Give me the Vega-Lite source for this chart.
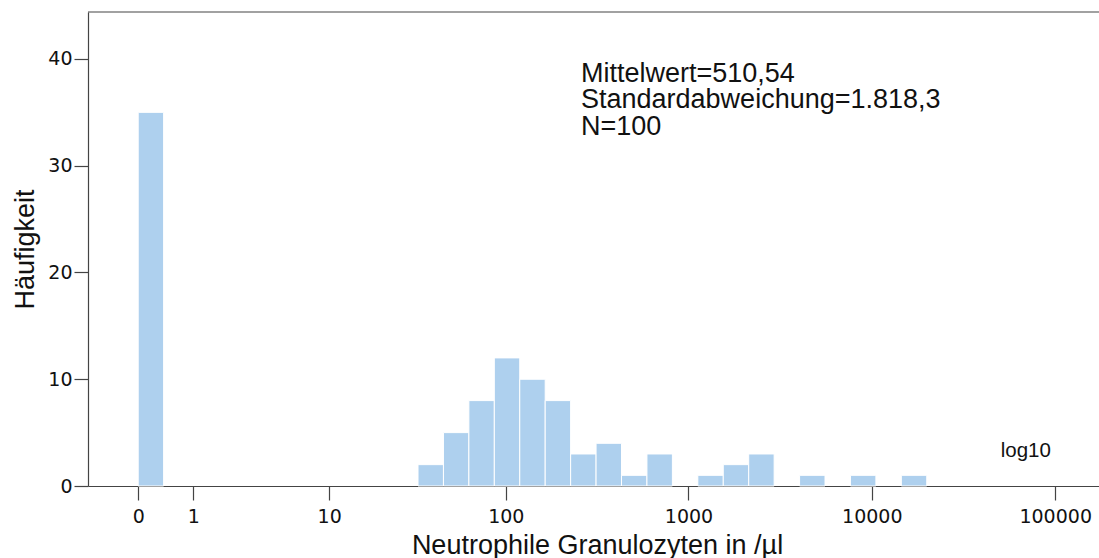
{
  "$schema": "https://vega.github.io/schema/vega-lite/v6.json",
  "width": 1011,
  "height": 474,
  "autosize": {"type": "none"},
  "padding": {"left": 88, "top": 12, "right": 0, "bottom": 72},
  "background": "white",
  "config": {
    "view": {"stroke": null},
    "axis": {
      "grid": false,
      "domainColor": "#444444",
      "domainWidth": 1.2,
      "tickColor": "#444444",
      "tickWidth": 1.2,
      "tickSize": 14,
      "labelFont": "DejaVu Sans",
      "labelFontSize": 19,
      "labelColor": "#111111",
      "titleFont": "Liberation Sans",
      "titleFontSize": 27,
      "titleFontWeight": "normal",
      "titleColor": "#111111"
    }
  },
  "layer": [
    {
      "data": {
        "values": [
          {"bin_start": 0.0, "bin_end": 0.1387, "count": 35},
          {"bin_start": 1.5257, "bin_end": 1.6644, "count": 2},
          {"bin_start": 1.6644, "bin_end": 1.8031, "count": 5},
          {"bin_start": 1.8031, "bin_end": 1.9418, "count": 8},
          {"bin_start": 1.9418, "bin_end": 2.0805, "count": 12},
          {"bin_start": 2.0805, "bin_end": 2.2192, "count": 10},
          {"bin_start": 2.2192, "bin_end": 2.3579, "count": 8},
          {"bin_start": 2.3579, "bin_end": 2.4966, "count": 3},
          {"bin_start": 2.4966, "bin_end": 2.6353, "count": 4},
          {"bin_start": 2.6353, "bin_end": 2.774, "count": 1},
          {"bin_start": 2.774, "bin_end": 2.9127, "count": 3},
          {"bin_start": 3.0514, "bin_end": 3.1901, "count": 1},
          {"bin_start": 3.1901, "bin_end": 3.3288, "count": 2},
          {"bin_start": 3.3288, "bin_end": 3.4675, "count": 3},
          {"bin_start": 3.6062, "bin_end": 3.7449, "count": 1},
          {"bin_start": 3.8836, "bin_end": 4.0223, "count": 1},
          {"bin_start": 4.161, "bin_end": 4.2997, "count": 1}
        ]
      },
      "mark": {"type": "rect", "color": "#AED0EE", "stroke": "white", "strokeWidth": 1},
      "encoding": {
        "x": {
          "field": "bin_start",
          "type": "quantitative",
          "scale": {"domain": [-0.2737, 5.2388], "nice": false, "zero": false},
          "axis": {
            "title": "Neutrophile Granulozyten in /µl",
            "values": [0, 0.30103, 1.04139, 2.00432, 3.00043, 4.00004, 5.0000043],
            "labelExpr": "format(pow(10, datum.value) - 1, '.0f')",
            "labelPadding": 7,
            "titleBaseline": "alphabetic",
            "titleX": 509,
            "titleY": 67
          }
        },
        "x2": {"field": "bin_end"},
        "y": {
          "field": "count",
          "type": "quantitative",
          "scale": {"domain": [0, 44.4], "nice": false},
          "axis": {
            "title": "Häufigkeit",
            "values": [0, 10, 20, 30, 40],
            "labelPadding": 2,
            "titleBaseline": "alphabetic",
            "titleX": -55,
            "titleY": 237
          }
        },
        "y2": {"datum": 0}
      }
    },
    {
      "data": {"values": [{}]},
      "mark": {"type": "rule", "color": "#444444", "strokeWidth": 1.2},
      "encoding": {"y": {"datum": 44.4}}
    },
    {
      "data": {"values": [{}]},
      "mark": {"type": "text", "text": "Mittelwert=510,54", "font": "Liberation Sans", "fontSize": 27, "align": "left", "baseline": "alphabetic", "color": "#111111"},
      "encoding": {"x": {"datum": 2.4144}, "y": {"datum": 37.87}}
    },
    {
      "data": {"values": [{}]},
      "mark": {"type": "text", "text": "Standardabweichung=1.818,3", "font": "Liberation Sans", "fontSize": 27, "align": "left", "baseline": "alphabetic", "color": "#111111"},
      "encoding": {"x": {"datum": 2.4144}, "y": {"datum": 35.37}}
    },
    {
      "data": {"values": [{}]},
      "mark": {"type": "text", "text": "N=100", "font": "Liberation Sans", "fontSize": 27, "align": "left", "baseline": "alphabetic", "color": "#111111"},
      "encoding": {"x": {"datum": 2.4144}, "y": {"datum": 32.87}}
    },
    {
      "data": {"values": [{}]},
      "mark": {"type": "text", "text": "log10", "font": "Liberation Sans", "fontSize": 20.5, "align": "left", "baseline": "alphabetic", "color": "#111111"},
      "encoding": {"x": {"datum": 4.703}, "y": {"datum": 2.74}}
    }
  ]
}
